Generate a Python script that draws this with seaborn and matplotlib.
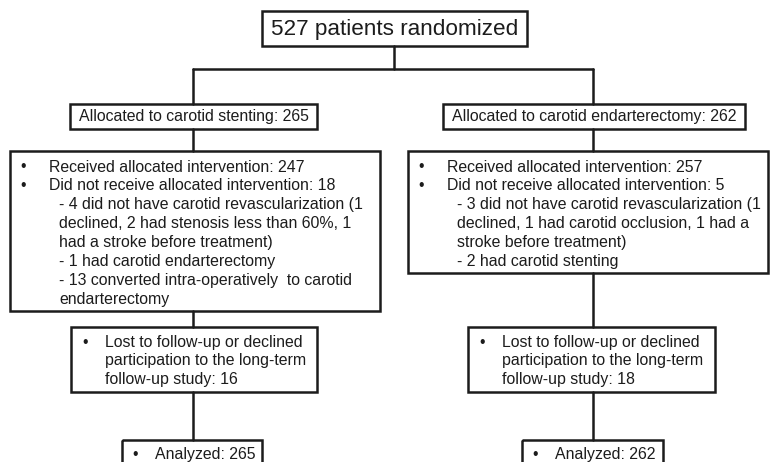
import matplotlib
matplotlib.use("Agg")
import matplotlib.pyplot as plt
from matplotlib.patches import Rectangle
import seaborn as sns
import pandas as pd

# ---------------- data ----------------
top_label = "527 patients randomized"
arm_names = ["carotid stenting", "carotid endarterectomy"]
allocated_n = [265, 262]
received_n = [247, 257]
not_received_n = [18, 5]
not_received_details = [
    ["- 4 did not have carotid revascularization (1",
     "declined, 2 had stenosis less than 60%, 1",
     "had a stroke before treatment)",
     "- 1 had carotid endarterectomy",
     "- 13 converted intra-operatively  to carotid",
     "endarterectomy"],
    ["- 3 did not have carotid revascularization (1",
     "declined, 1 had carotid occlusion, 1 had a",
     "stroke before treatment)",
     "- 2 had carotid stenting"],
]
lost_n = [16, 18]
analyzed_n = [265, 262]

# ---------------- layout (pixels) ----------------
W, H = 770, 462
sns.set_theme(style="white")
plt.rcParams["font.family"] = ["Liberation Sans", "DejaVu Sans"]
INK = "#1c1c1c"
LW = 1.8
FS = 11.4
LINE = 18.9

fig = plt.figure(figsize=(W / 100, H / 100), dpi=100)
ax = fig.add_axes([0, 0, 1, 1])


def box(x0, y0, x1, y1):
    ax.add_patch(Rectangle((x0, y0), x1 - x0, y1 - y0, fill=False,
                           edgecolor=INK, linewidth=LW, zorder=3))


def txt(x, y, s, size=FS, ha="left"):
    ax.text(x, y, s, fontsize=size, color=INK, ha=ha, va="center", zorder=4)


# connectors via seaborn
cx = [193, 593]
segs = [
    (394, 46, 394, 69),
    (cx[0], 69, cx[1], 69),
]
for c in cx:
    segs.append((c, 69, c, 104))
segs += [
    (cx[0], 129, cx[0], 151), (cx[1], 129, cx[1], 151),
    (cx[0], 311, cx[0], 327), (cx[1], 273, cx[1], 327),
    (cx[0], 392, cx[0], 440), (cx[1], 392, cx[1], 440),
]
rows = []
for i, (x0, y0, x1, y1) in enumerate(segs):
    rows.append({"seg": i, "x": x0, "y": y0})
    rows.append({"seg": i, "x": x1, "y": y1})
df = pd.DataFrame(rows)
sns.lineplot(data=df, x="x", y="y", units="seg", estimator=None, sort=False,
             color=INK, linewidth=LW, ax=ax, legend=False)
ax.set_xlim(0, W)
ax.set_ylim(H, 0)
ax.axis("off")

# top box
box(262, 11, 527, 46)
txt(394.5, 29, top_label, size=16.2, ha="center")

# allocation boxes
alloc_boxes = [(70, 104, 317), (443, 104, 745)]
for i, (x0, y0, x1) in enumerate(alloc_boxes):
    box(x0, y0, x1, y0 + 25)
    txt((x0 + x1) / 2, y0 + 13, f"Allocated to {arm_names[i]}: {allocated_n[i]}",
        ha="center")

# intervention boxes
big = [(10, 151, 380, 311), (408, 151, 768, 273)]
for i, (x0, y0, x1, y1) in enumerate(big):
    box(x0, y0, x1, y1)
    y = y0 + 16
    txt(x0 + 10, y, "•")
    txt(x0 + 39, y, f"Received allocated intervention: {received_n[i]}")
    y += LINE
    txt(x0 + 10, y, "•")
    txt(x0 + 39, y, f"Did not receive allocated intervention: {not_received_n[i]}")
    for line in not_received_details[i]:
        y += LINE
        txt(x0 + 49, y, line)

# lost boxes
lost = [(71, 327, 317, 392), (468, 327, 715, 392)]
for i, (x0, y0, x1, y1) in enumerate(lost):
    box(x0, y0, x1, y1)
    txt(x0 + 11, y0 + 15, "•")
    txt(x0 + 34, y0 + 15, "Lost to follow-up or declined")
    txt(x0 + 34, y0 + 15 + LINE, "participation to the long-term")
    txt(x0 + 34, y0 + 15 + 2 * LINE, f"follow-up study: {lost_n[i]}")

# analyzed boxes (cut by bottom edge)
ana = [(122, 440, 262), (522, 440, 663)]
for i, (x0, y0, x1) in enumerate(ana):
    box(x0, y0, x1, y0 + 40)
    txt(x0 + 10, y0 + 14, "•")
    txt(x0 + 33, y0 + 14, f"Analyzed: {analyzed_n[i]}")

fig.savefig("out.png", dpi=100, facecolor="white")
